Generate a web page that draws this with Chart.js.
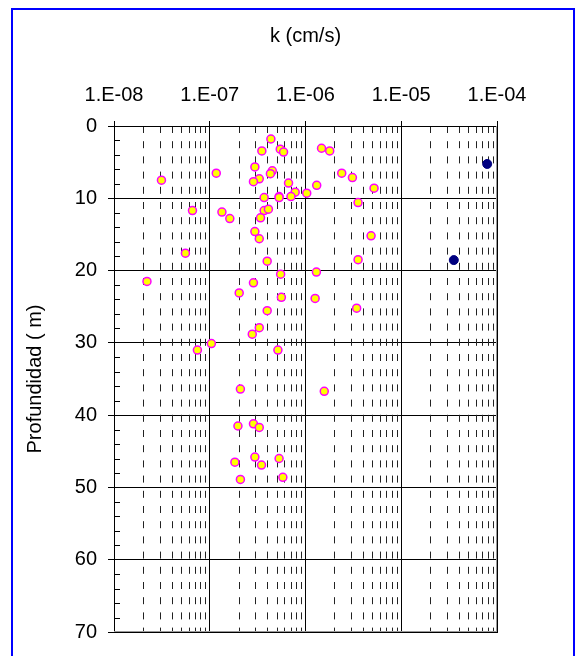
<!DOCTYPE html>
<html>
<head>
<meta charset="utf-8">
<title>k vs Profundidad</title>
<script src="https://cdn.jsdelivr.net/npm/chart.js@4.4.1/dist/chart.umd.min.js"></script>
<style>
    body { margin: 0; background: #fff; }
    canvas { display: block; }
</style>
</head>
<body>
<canvas id="kChart" width="575" height="656"></canvas>
<script>
// Permeability k (cm/s) and depth (m)
var kLab = [4.35e-7, 3.5e-7, 5.45e-7, 5.9e-7, 2.96e-7, 1.17e-7, 3.13e-8, 4.5e-7, 4.3e-7, 3.29e-7,
    2.86e-7, 6.65e-7, 7.8e-7, 1.03e-6, 3.7e-7, 5.3e-7, 5.3e-7, 7.05e-7, 6.6e-8, 1.34e-7,
    3.7e-7, 4.1e-7, 1.62e-7, 3.39e-7, 2.96e-7, 3.29e-7, 5.57e-8, 3.98e-7, 5.5e-7, 2.21e-8,
    2.86e-7, 1.47e-6, 1.79e-6, 2.39e-6, 3.09e-6, 1.31e-6, 5.2e-6, 3.54e-6, 4.84e-6, 3.54e-6,
    1.3e-6, 2.03e-7, 5.6e-7, 1.26e-6, 3.42e-6, 3.98e-7, 3.29e-7, 2.78e-7, 1.04e-7, 7.43e-8,
    5.15e-7, 2.09e-7, 1.57e-6, 1.97e-7, 2.86e-7, 3.29e-7, 2.96e-7, 5.3e-7, 1.83e-7, 3.47e-7,
    5.8e-7, 2.09e-7];
var depthLab = [1.8, 3.45, 3.2, 3.6, 5.66, 6.53, 7.5, 6.2, 6.6, 7.3,
    7.7, 7.9, 9.15, 9.3, 9.9, 9.77, 9.9, 9.77, 11.7, 11.9,
    11.7, 11.5, 12.8, 12.7, 14.6, 15.6, 17.6, 18.7, 20.5, 21.5,
    21.7, 3.08, 3.45, 6.53, 7.14, 8.2, 8.6, 10.6, 15.2, 18.5,
    20.2, 23.1, 23.7, 23.85, 25.2, 25.55, 27.9, 28.8, 30.1, 31.0,
    31.0, 36.4, 36.7, 41.5, 41.2, 41.7, 45.8, 46.0, 46.5, 46.9,
    48.6, 48.9];

// The two dark blue points
var kField = [7.9e-5, 3.54e-5];
var depthField = [5.25, 18.55];

var xTitle = 'k (cm/s)';
var yTitle = 'Profundidad ( m)';

function toPoints(xs, ys) {
    var pts = [];
    for (var i = 0; i < xs.length; i++) {
        pts.push({ x: xs[i], y: ys[i] });
    }
    return pts;
}

function isDecade(v) {
    var l = Math.log10(v);
    return Math.abs(l - Math.round(l)) < 1e-6;
}

// Excel style label: 1.E-08
function decadeLabel(v) {
    if (!isDecade(v)) return '';
    var e = Math.round(Math.log10(v));
    var a = Math.abs(e);
    return '1.E' + (e < 0 ? '-' : '+') + (a < 10 ? '0' + a : a);
}

// Blue frame, plot box, dashed minor lines and inner minor ticks
var decorPlugin = {
    id: 'decor',
    beforeDraw: function(chart) {
        var ctx = chart.ctx;
        ctx.save();
        ctx.fillStyle = '#fff';
        ctx.fillRect(0, 0, chart.width, chart.height);
        ctx.strokeStyle = '#0000ff';
        ctx.lineWidth = 2;
        ctx.strokeRect(12, 9, 562, 700);
        ctx.restore();
    },
    beforeDatasetsDraw: function(chart) {
        var ctx = chart.ctx;
        var a = chart.chartArea;
        var xs = chart.scales.x;
        var ys = chart.scales.y;
        ctx.save();

        // dashed minor verticals 2..9 of each decade
        ctx.strokeStyle = '#222';
        ctx.lineWidth = 1;
        ctx.setLineDash([7, 8.2]);
        for (var d = -8; d < -4; d++) {
            for (var m = 2; m <= 9; m++) {
                var px = Math.round(xs.getPixelForValue(m * Math.pow(10, d))) + 0.5;
                ctx.beginPath();
                ctx.moveTo(px, a.top);
                ctx.lineTo(px, a.bottom);
                ctx.stroke();
            }
        }
        ctx.setLineDash([]);

        // minor ticks on the depth axis every 2 m, pointing inside
        ctx.strokeStyle = '#000';
        for (var v = 2; v < 70; v += 2) {
            if (v % 10 === 0) continue;
            var py = Math.round(ys.getPixelForValue(v)) + 0.5;
            ctx.beginPath();
            ctx.moveTo(a.left, py);
            ctx.lineTo(a.left + 6, py);
            ctx.stroke();
        }

        // plot box
        ctx.strokeStyle = '#000';
        ctx.lineWidth = 1;
        ctx.strokeRect(Math.round(a.left) + 0.5, Math.round(a.top) + 0.5,
            Math.round(a.right - a.left), Math.round(a.bottom - a.top));
        ctx.strokeStyle = '#999';
        ctx.beginPath();
        ctx.moveTo(Math.round(a.right) - 0.5, a.top);
        ctx.lineTo(Math.round(a.right) - 0.5, a.bottom);
        ctx.moveTo(a.left, Math.round(a.bottom) - 0.5);
        ctx.lineTo(a.right, Math.round(a.bottom) - 0.5);
        ctx.stroke();
        ctx.restore();
    }
};

Chart.defaults.font.family = 'Arial, "Liberation Sans", sans-serif';
Chart.defaults.font.size = 20;
Chart.defaults.color = '#000';

var ctx = document.getElementById('kChart').getContext('2d');
var myChart = new Chart(ctx, {
    type: 'scatter',
    data: {
        datasets: [{
            data: toPoints(kLab, depthLab),
            backgroundColor: '#ffff00',
            borderColor: '#ff00ff',
            borderWidth: 1.5,
            pointRadius: 4
        }, {
            data: toPoints(kField, depthField),
            backgroundColor: '#000080',
            borderColor: '#000080',
            borderWidth: 1,
            pointRadius: 4.5
        }]
    },
    options: {
        responsive: false,
        animation: false,
        layout: { padding: { left: 0, top: 0, right: 78, bottom: 24 } },
        plugins: {
            legend: { display: false },
            tooltip: { enabled: false }
        },
        scales: {
            x: {
                type: 'logarithmic',
                position: 'top',
                min: 1e-8,
                max: 1e-4,
                afterFit: function(scale) { scale.height = 126; },
                title: {
                    display: true,
                    text: xTitle,
                    font: { size: 20 },
                    padding: { top: 24, bottom: 0 }
                },
                ticks: {
                    autoSkip: false,
                    maxRotation: 0,
                    padding: 14,
                    callback: function(value) { return decadeLabel(value); }
                },
                grid: {
                    lineWidth: 1,
                    tickLength: 5,
                    color: function(c) {
                        return c.tick && isDecade(c.tick.value) ? '#000' : 'rgba(0,0,0,0)';
                    },
                    tickColor: function(c) {
                        return c.tick && isDecade(c.tick.value) ? '#000' : 'rgba(0,0,0,0)';
                    }
                },
                border: { display: false }
            },
            y: {
                type: 'linear',
                reverse: true,
                min: 0,
                max: 70,
                afterFit: function(scale) { scale.width = 114; },
                title: {
                    display: true,
                    text: yTitle,
                    font: { size: 20 },
                    padding: { top: 23, bottom: 0 }
                },
                ticks: {
                    stepSize: 10,
                    padding: 11
                },
                grid: {
                    color: '#000',
                    lineWidth: 1,
                    tickLength: 6,
                    tickColor: '#000'
                },
                border: { display: false }
            }
        }
    },
    plugins: [decorPlugin]
});
</script>
</body>
</html>
